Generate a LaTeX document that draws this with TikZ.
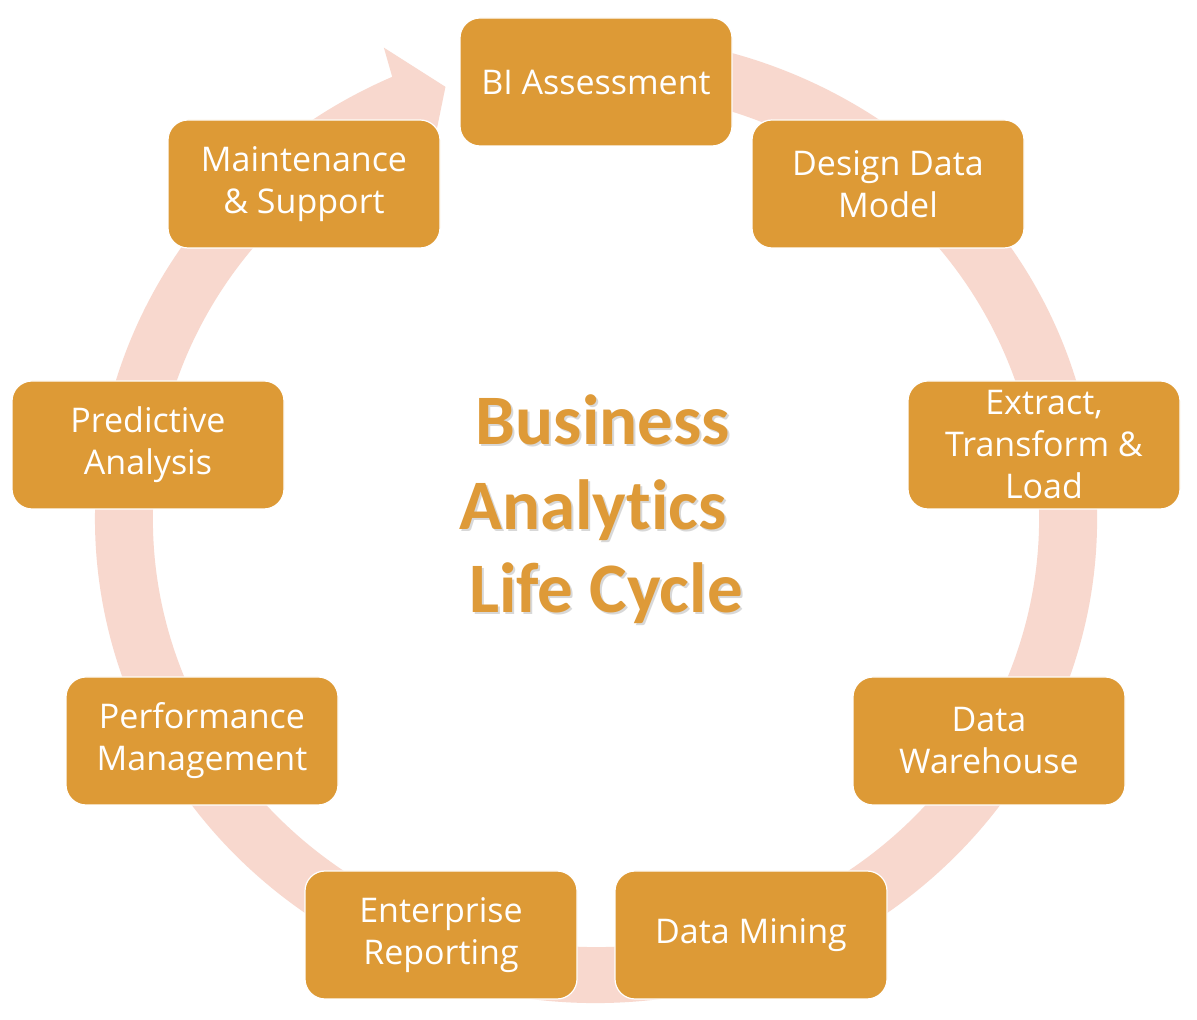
\documentclass[tikz,border=0pt]{standalone}
\usepackage{fontspec}
\setmainfont{Open Sans}
\newfontfamily\titlefont[Ligatures={NoCommon,NoContextual}]{Carlito}
\definecolor{boxorange}{HTML}{DD9A36}
\definecolor{ringpink}{HTML}{F8D8CE}
\definecolor{titleorange}{HTML}{DE9A38}
\begin{document}
\begin{tikzpicture}[x=1pt,y=1pt,
  stagebox/.style={draw=white, line width=1.2pt, fill=boxorange, rounded corners=20pt,
    minimum width=272pt, minimum height=128pt, text=white, align=center,
    font=\fontsize{34}{42}\selectfont, inner sep=4pt},
  titletext/.style={anchor=base, text=titleorange, font=\titlefont\bfseries\fontsize{71}{85}\selectfont, inner sep=0pt},
  titleshadow/.style={anchor=base, text=black!30, opacity=0.5, font=\titlefont\bfseries\fontsize{71}{85}\selectfont, inner sep=0pt}
]
\useasboundingbox (0,0) rectangle (1197,1020);
\fill[white] (0,0) rectangle (1197,1020);
% ring with arrow head
\begin{scope}[shift={(596,501)}]
\fill[ringpink] (100:501pt and 484pt)
  arc[start angle=100, end angle=-246, x radius=501pt, y radius=484pt]
  -- (113.5:532pt and 514pt)
  -- (108.6:472pt and 456pt)
  -- (113.5:412pt and 398pt)
  -- (-246:443pt and 428pt)
  arc[start angle=-246, end angle=100, x radius=443pt, y radius=428pt]
  -- cycle;
\end{scope}
% stage boxes
\node[stagebox] (bi) at (596,938) {BI Assessment};
\node[stagebox] (ddm) at (888,836) {Design Data\\Model};
\node[stagebox] (etl) at (1044,575) {Extract,\\Transform \&\\Load};
\node[stagebox] (dw) at (989,279) {Data\\Warehouse};
\node[stagebox] (dm) at (751,85) {Data Mining};
\node[stagebox] (er) at (441,85) {Enterprise\\Reporting};
\node[stagebox] (pm) at (202,279) {Performance\\Management};
\node[stagebox] (pa) at (148,575) {Predictive\\Analysis};
\node[stagebox] (ms) at (304,836) {Maintenance\\\& Support};
% title
\node[titleshadow] (t1s) at (605,573) {Business};
\node[titleshadow] (t2s) at (595,488) {Analytics};
\node[titleshadow] (t3s) at (608,405) {Life Cycle};
\node[titletext] (t1) at (603,575) {Business};
\node[titletext] (t2) at (593,490) {Analytics};
\node[titletext] (t3) at (606,407) {Life Cycle};
\end{tikzpicture}
\end{document}
